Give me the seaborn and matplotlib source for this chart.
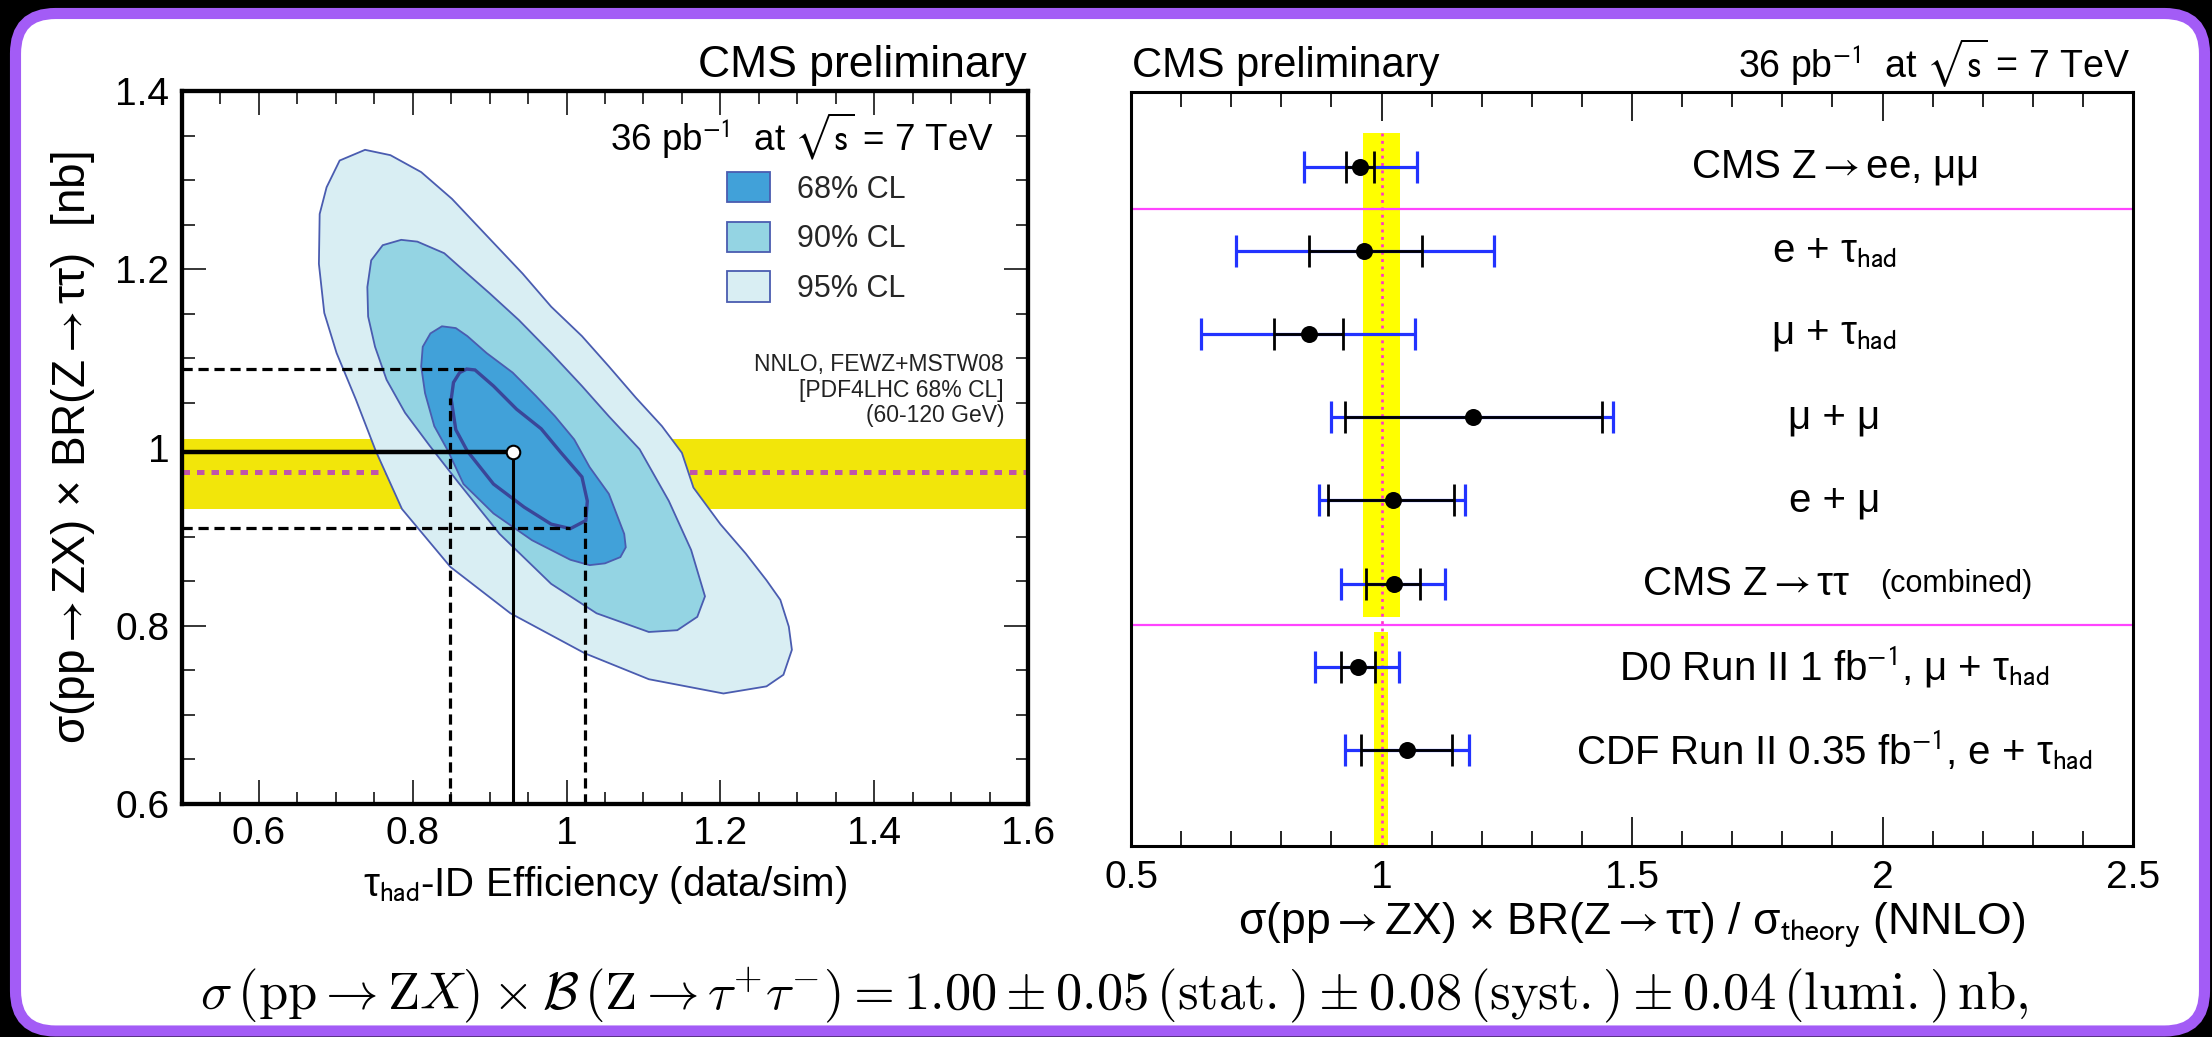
import numpy as np
import pandas as pd
import matplotlib
matplotlib.use("Agg")
import matplotlib.pyplot as plt
from matplotlib.patches import FancyBboxPatch, Patch
from matplotlib.ticker import MultipleLocator, FixedLocator, FuncFormatter
import seaborn as sns

# ---------------------------------------------------------------- data
# Left panel: confidence-region outlines
# (tau_had-ID efficiency, sigma x BR [nb])
cl95_eff = [0.738, 0.771, 0.811, 0.851, 0.886, 0.943, 0.980, 1.020, 1.055, 1.090, 1.124,
            1.150, 1.165, 1.200, 1.233, 1.260, 1.278, 1.289, 1.293, 1.282, 1.260, 1.204,
            1.107, 1.024, 0.927, 0.849, 0.786, 0.752, 0.726, 0.701, 0.685, 0.678, 0.679,
            0.688, 0.705]
cl95_xs = [1.334, 1.328, 1.309, 1.279, 1.247, 1.195, 1.158, 1.125, 1.091, 1.056, 1.024,
           0.994, 0.955, 0.914, 0.881, 0.851, 0.829, 0.799, 0.773, 0.745, 0.732, 0.724,
           0.740, 0.769, 0.814, 0.866, 0.931, 0.996, 1.054, 1.106, 1.151, 1.206, 1.262,
           1.292, 1.322]
cl90_eff = [0.785, 0.806, 0.841, 0.871, 0.900, 0.938, 0.980, 1.020, 1.055, 1.095, 1.133,
            1.162, 1.180, 1.170, 1.144, 1.107, 1.039, 0.980, 0.913, 0.860, 0.822, 0.790,
            0.766, 0.751, 0.742, 0.741, 0.746, 0.761]
cl90_xs = [1.233, 1.231, 1.218, 1.195, 1.173, 1.143, 1.106, 1.069, 1.035, 0.998, 0.940,
           0.885, 0.833, 0.810, 0.795, 0.793, 0.814, 0.847, 0.903, 0.960, 1.002, 1.039,
           1.076, 1.113, 1.147, 1.180, 1.210, 1.227]
cl68_eff = [0.838, 0.856, 0.871, 0.896, 0.930, 0.960, 0.985, 1.010, 1.030, 1.055, 1.075,
            1.077, 1.070, 1.050, 1.030, 1.005, 0.955, 0.905, 0.866, 0.846, 0.828, 0.816,
            0.811, 0.813, 0.823]
cl68_xs = [1.136, 1.134, 1.125, 1.106, 1.084, 1.058, 1.035, 1.009, 0.978, 0.948, 0.903,
           0.888, 0.877, 0.870, 0.868, 0.874, 0.896, 0.926, 0.959, 0.996, 1.024, 1.061,
           1.091, 1.113, 1.128]
inner_eff = [0.870, 0.881, 0.905, 0.935, 0.967, 0.992, 1.020, 1.027, 1.025, 1.005, 0.980,
             0.945, 0.905, 0.871, 0.856, 0.850, 0.853, 0.861]
inner_xs = [1.088, 1.087, 1.069, 1.043, 1.021, 0.995, 0.967, 0.940, 0.918, 0.909, 0.914,
            0.933, 0.959, 0.996, 1.020, 1.054, 1.073, 1.084]

best_eff = 0.931
best_xs = 0.995
xs_1sigma = [0.910, 1.088]
eff_1sigma = [0.849, 1.024]
theory_xs = 0.972
theory_xs_band = [0.931, 1.010]
cl_labels = ["68% CL", "90% CL", "95% CL"]

# Right panel: sigma / sigma_theory
row_labels = [
    "CMS Z$\\rightarrow$ee, \u03bc\u03bc",
    "e + \u03c4$_{\\mathrm{had}}$",
    "\u03bc + \u03c4$_{\\mathrm{had}}$",
    "\u03bc + \u03bc",
    "e + \u03bc",
    "CMS Z$\\rightarrow$\u03c4\u03c4",
    "D0 Run II 1 fb$^{-1}$, \u03bc + \u03c4$_{\\mathrm{had}}$",
    "CDF Run II 0.35 fb$^{-1}$, e + \u03c4$_{\\mathrm{had}}$",
]
ratio_central = [0.957, 0.965, 0.855, 1.182, 1.022, 1.025, 0.953, 1.051]
stat_low = [0.930, 0.855, 0.785, 0.927, 0.893, 0.969, 0.919, 0.959]
stat_high = [0.985, 1.080, 0.923, 1.441, 1.145, 1.077, 0.987, 1.141]
total_low = [0.845, 0.710, 0.639, 0.900, 0.875, 0.919, 0.867, 0.927]
total_high = [1.071, 1.225, 1.067, 1.463, 1.167, 1.127, 1.035, 1.175]
lhc_band = [0.963, 1.037]
tev_band = [0.985, 1.013]
separator_rows = [0.5, 5.5]

# ---------------------------------------------------------------- style
sns.set_theme(style="ticks")
plt.rcParams["font.family"] = ["Liberation Sans", "DejaVu Sans"]
plt.rcParams["mathtext.fontset"] = "stixsans"
plt.rcParams["axes.unicode_minus"] = True
MF = "stixsans"

W, H = 2212, 1037
fig = plt.figure(figsize=(W / 100, H / 100), dpi=100, facecolor="black")

def fx(px):
    return px / W

def fy(py):
    return 1 - py / H

# rounded purple frame
frame = FancyBboxPatch((15.5 / 100, (H - 1031) / 100), (2204.5 - 15.5) / 100, (1031 - 13.5) / 100,
                       boxstyle="round,pad=0,rounding_size=0.40",
                       transform=fig.dpi_scale_trans, facecolor="white",
                       edgecolor="#A35CF6", linewidth=8.0, zorder=-5)
fig.add_artist(frame)

# ---------------------------------------------------------------- left panel
axL = fig.add_axes([fx(182), fy(804), fx(1028) - fx(182), fy(91) - fy(804)])
axL.set_facecolor("white")
axL.set_xlim(0.5, 1.6)
axL.set_ylim(0.6, 1.4)

edge_col = "#4A5CB0"
fill_cols = ["#41A1D9", "#94D4E3", "#D9EEF3"]

axL.axhspan(theory_xs_band[0], theory_xs_band[1], color="#F2E60A", lw=0, zorder=1)
axL.plot([0.5, 1.6], [theory_xs, theory_xs], color="#C055AA", lw=3.6,
         ls=(0, (1.5, 1.4)), solid_capstyle="butt", dash_capstyle="butt", zorder=2)

axL.fill(cl95_eff, cl95_xs, facecolor=fill_cols[2], edgecolor=edge_col, lw=1.3, zorder=3)
axL.fill(cl90_eff, cl90_xs, facecolor=fill_cols[1], edgecolor=edge_col, lw=1.3, zorder=4)
axL.fill(cl68_eff, cl68_xs, facecolor=fill_cols[0], edgecolor=edge_col, lw=1.3, zorder=5)
axL.fill(inner_eff, inner_xs, facecolor="none", edgecolor="#3A4699", lw=2.4, zorder=6)

dash = (0, (3.2, 1.8))
axL.plot([0.5, 0.868], [xs_1sigma[1]] * 2, color="black", lw=2.3, ls=dash, zorder=7)
axL.plot([0.5, 1.005], [xs_1sigma[0]] * 2, color="black", lw=2.3, ls=dash, zorder=7)
axL.plot([eff_1sigma[0]] * 2, [0.6, 1.055], color="black", lw=2.3, ls=dash, zorder=7)
axL.plot([eff_1sigma[1]] * 2, [0.6, 0.935], color="black", lw=2.3, ls=dash, zorder=7)
axL.plot([0.5, best_eff], [best_xs, best_xs], color="black", lw=3.2, zorder=8,
         solid_capstyle="butt")
axL.plot([best_eff, best_eff], [0.6, best_xs], color="black", lw=2.2, zorder=8,
         solid_capstyle="butt")
sns.scatterplot(x=[best_eff], y=[best_xs], ax=axL, s=95, color="white",
                edgecolor="black", linewidth=1.5, zorder=9, legend=False)

for s in axL.spines.values():
    s.set_linewidth(3.1)
    s.set_color("black")
    s.set_zorder(10)
axL.xaxis.set_major_locator(FixedLocator([0.6, 0.8, 1.0, 1.2, 1.4, 1.6]))
axL.xaxis.set_minor_locator(MultipleLocator(0.05))
axL.yaxis.set_major_locator(FixedLocator([0.6, 0.8, 1.0, 1.2, 1.4]))
axL.yaxis.set_minor_locator(MultipleLocator(0.05))
fmt = FuncFormatter(lambda v, p: f"{v:g}")
axL.xaxis.set_major_formatter(fmt)
axL.yaxis.set_major_formatter(fmt)
axL.tick_params(which="both", direction="in", top=True, right=True, colors="black",
                labelsize=28, width=1.1)
axL.tick_params(which="major", length=17, pad=9)
axL.tick_params(which="minor", length=9)
axL.set_xlabel("\u03c4$_{\\mathrm{had}}$-ID Efficiency (data/sim)", fontsize=29,
               color="black", labelpad=8, math_fontfamily=MF)
axL.set_ylabel("\u03c3(pp$\\rightarrow$ZX) \u00d7 BR(Z$\\rightarrow$\u03c4\u03c4)  [nb]",
               fontsize=33, color="black", math_fontfamily=MF)
axL.yaxis.set_label_coords(-0.100, 0.5)

axL.text(0.5 + (994 - 182) / 846 * 1.1, 1.4 - (150 - 91) / 713 * 0.8,
         "36 pb$^{-1}$  at $\\sqrt{\\mathrm{s}}$ = 7 TeV", ha="right", va="baseline",
         fontsize=26.5, color="black", zorder=11, math_fontfamily=MF)

handles = [Patch(facecolor=c, edgecolor=edge_col, lw=1.3) for c in fill_cols]
leg = axL.legend(handles, cl_labels, loc="upper left",
                 bbox_to_anchor=((727 - 182) / 846, 1 - (172 - 91) / 713),
                 frameon=False, fontsize=22, handlelength=1.4, handleheight=1.15,
                 handletextpad=0.9, labelspacing=0.56, borderpad=0, borderaxespad=0)
leg.set_zorder(11)

for txt, py in zip(["NNLO, FEWZ+MSTW08", "[PDF4LHC 68% CL]", "(60-120 GeV)"],
                   [371, 397, 422]):
    axL.text(0.5 + (1004 - 182) / 846 * 1.1, 1.4 - (py - 91) / 713 * 0.8, txt,
             ha="right", va="baseline", fontsize=16.5, color="#222222", zorder=11)

fig.text(fx(1027), fy(77), "CMS preliminary", ha="right", va="baseline",
         fontsize=32, color="black")

# ---------------------------------------------------------------- right panel
axR = fig.add_axes([fx(1131), fy(846), fx(2133) - fx(1131), fy(92) - fy(846)])
axR.set_facecolor("white")
axR.set_xlim(0.5, 2.5)
axR.set_ylim(8.15, -0.905)
rows = np.arange(len(row_labels))

axR.fill_betweenx([-0.415, 5.40], lhc_band[0], lhc_band[1], color="#FFFF00", lw=0, zorder=1)
axR.fill_betweenx([5.58, 8.15], tev_band[0], tev_band[1], color="#FFFF00", lw=0, zorder=1)
axR.plot([1.0, 1.0], [-0.415, 8.15], color="#FF33CC", lw=1.9,
         ls=(0, (1.1, 1.7)), zorder=2)
for yr in separator_rows:
    axR.axhline(yr, color="#FF44FF", lw=1.6, zorder=2)

df = pd.DataFrame({"row": rows, "c": ratio_central, "sl": stat_low, "sh": stat_high,
                   "tl": total_low, "th": total_high})
axR.errorbar(df["c"], df["row"], xerr=[df["c"] - df["tl"], df["th"] - df["c"]],
             fmt="none", ecolor="#2233FF", elinewidth=2.3, capsize=11.5, capthick=2.3,
             zorder=3)
axR.errorbar(df["c"], df["row"], xerr=[df["c"] - df["sl"], df["sh"] - df["c"]],
             fmt="none", ecolor="black", elinewidth=2.0, capsize=11.5, capthick=2.0,
             zorder=4)
sns.scatterplot(data=df, x="c", y="row", ax=axR, s=150, color="black",
                edgecolor="black", linewidth=0, zorder=5, legend=False)

for i, lab in enumerate(row_labels):
    if i == 5:
        axR.text(1.935, i, lab, ha="right", va="center", fontsize=29, color="black",
                 math_fontfamily=MF)
        axR.text(1.996, i, "(combined)", ha="left", va="center", fontsize=22,
                 color="black")
    else:
        axR.text(1.904, i, lab, ha="center", va="center", fontsize=29, color="black",
                 math_fontfamily=MF)

for s in axR.spines.values():
    s.set_linewidth(2.2)
    s.set_color("black")
    s.set_zorder(10)
axR.xaxis.set_major_locator(FixedLocator([0.5, 1.0, 1.5, 2.0, 2.5]))
axR.xaxis.set_minor_locator(MultipleLocator(0.1))
axR.xaxis.set_major_formatter(fmt)
axR.set_yticks([])
axR.tick_params(axis="x", which="both", direction="in", top=True, bottom=True,
                colors="black", labelsize=28, width=1.2)
axR.tick_params(axis="x", which="major", length=21, pad=10)
axR.tick_params(axis="x", which="minor", length=10.5)
axR.set_xlabel("\u03c3(pp$\\rightarrow$ZX) \u00d7 BR(Z$\\rightarrow$\u03c4\u03c4) / \u03c3$_{\\mathrm{theory}}$ (NNLO)",
               fontsize=32, color="black", labelpad=3, math_fontfamily=MF)
axR.set_ylabel("")

fig.text(fx(1132), fy(77), "CMS preliminary", ha="left", va="baseline",
         fontsize=30, color="black")
fig.text(fx(2130), fy(77), "36 pb$^{-1}$  at $\\sqrt{\\mathrm{s}}$ = 7 TeV", ha="right",
         va="baseline", fontsize=27, color="black", math_fontfamily=MF)

# ---------------------------------------------------------------- formula
fig.text(fx(1114), fy(1010),
         r"$\sigma\,(\mathrm{pp}\rightarrow\mathrm{Z}X)\times\mathcal{B}\,(\mathrm{Z}\rightarrow\tau^{+}\tau^{-})"
         r"=1.00\pm0.05\,(\mathrm{stat.})\pm0.08\,(\mathrm{syst.})\pm0.04\,(\mathrm{lumi.})\,\mathrm{nb},$",
         ha="center", va="baseline", fontsize=37.8, color="black", math_fontfamily="cm")

fig.savefig("out.png", dpi=100, facecolor="black")
